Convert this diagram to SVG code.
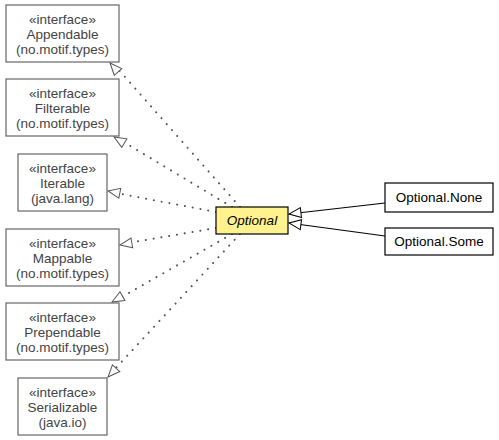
<svg xmlns="http://www.w3.org/2000/svg" width="499" height="440" viewBox="0 0 499 440">
<defs>
<style>
.iface rect{fill:#fff;stroke:#666;stroke-width:1.2}
.iface text{font-family:"Liberation Sans",Arial,sans-serif;font-size:13.5px;fill:#444;text-anchor:middle}
.cls rect{fill:#fff;stroke:#000;stroke-width:1.2}
.cls text{font-family:"Liberation Sans",Arial,sans-serif;font-size:13.5px;fill:#000;text-anchor:middle}
.dot{stroke:#555;stroke-width:2;stroke-dasharray:0.1 7.8;stroke-linecap:round;fill:none}
.solid{stroke:#000;stroke-width:1.2;fill:none}
</style>
<marker id="tri" markerUnits="userSpaceOnUse" markerWidth="14" markerHeight="12" viewBox="-1 -1 14 12" refX="12" refY="5" orient="auto">
<path d="M0,0 L12,5 L0,10 Z" fill="#fff" stroke="#555" stroke-width="1"/>
</marker>
<marker id="tri2" markerUnits="userSpaceOnUse" markerWidth="14" markerHeight="12" viewBox="-1 -1 14 12" refX="12" refY="5" orient="auto">
<path d="M0,0 L12,5 L0,10 Z" fill="#fff" stroke="#000" stroke-width="1"/>
</marker>
</defs>
<g id="connectors">
<line class="dot" x1="240" y1="207" x2="118" y2="69"/>
<line class="dot" x1="232" y1="207" x2="122" y2="141"/>
<line class="dot" x1="216" y1="212" x2="116" y2="193"/>
<line class="dot" x1="216" y1="228" x2="128" y2="243"/>
<line class="dot" x1="232" y1="234" x2="120" y2="298"/>
<line class="dot" x1="240" y1="234" x2="114" y2="370"/>
<line x1="240" y1="207" x2="110" y2="63" stroke="none" marker-end="url(#tri)"/>
<line x1="232" y1="207" x2="114" y2="137" stroke="none" marker-end="url(#tri)"/>
<line x1="216" y1="212" x2="108" y2="191" stroke="none" marker-end="url(#tri)"/>
<line x1="216" y1="228" x2="120" y2="245" stroke="none" marker-end="url(#tri)"/>
<line x1="232" y1="234" x2="112" y2="302" stroke="none" marker-end="url(#tri)"/>
<line x1="240" y1="234" x2="108" y2="377" stroke="none" marker-end="url(#tri)"/>
<line class="solid" x1="385" y1="203" x2="289" y2="214" marker-end="url(#tri2)"/>
<line class="solid" x1="385" y1="236" x2="289" y2="223" marker-end="url(#tri2)"/>
</g>
<g id="appendable" class="iface">
<rect x="6" y="5" width="113" height="57"/>
<text x="62.5" y="24">«interface»</text>
<text x="62.5" y="39">Appendable</text>
<text x="62.5" y="54">(no.motif.types)</text>
</g>
<g id="filterable" class="iface">
<rect x="6" y="79" width="113" height="57"/>
<text x="62.5" y="98">«interface»</text>
<text x="62.5" y="113">Filterable</text>
<text x="62.5" y="128">(no.motif.types)</text>
</g>
<g id="iterable" class="iface">
<rect x="18" y="154" width="89" height="57"/>
<text x="62.5" y="173">«interface»</text>
<text x="62.5" y="188">Iterable</text>
<text x="62.5" y="203">(java.lang)</text>
</g>
<g id="mappable" class="iface">
<rect x="6" y="229" width="113" height="57"/>
<text x="62.5" y="248">«interface»</text>
<text x="62.5" y="263">Mappable</text>
<text x="62.5" y="278">(no.motif.types)</text>
</g>
<g id="prependable" class="iface">
<rect x="6" y="303" width="113" height="57"/>
<text x="62.5" y="322">«interface»</text>
<text x="62.5" y="337">Prependable</text>
<text x="62.5" y="352">(no.motif.types)</text>
</g>
<g id="serializable" class="iface">
<rect x="18" y="378" width="89" height="57"/>
<text x="62.5" y="397">«interface»</text>
<text x="62.5" y="412">Serializable</text>
<text x="62.5" y="427">(java.io)</text>
</g>
<g id="optional" class="cls">
<rect x="216" y="207" width="72" height="27" style="fill:#fff28f"/>
<text x="252" y="225" font-style="italic">Optional</text>
</g>
<g id="optional-none" class="cls">
<rect x="385" y="183" width="108" height="29"/>
<text x="439" y="202">Optional.None</text>
</g>
<g id="optional-some" class="cls">
<rect x="385" y="228" width="108" height="27"/>
<text x="439" y="246">Optional.Some</text>
</g>
</svg>
